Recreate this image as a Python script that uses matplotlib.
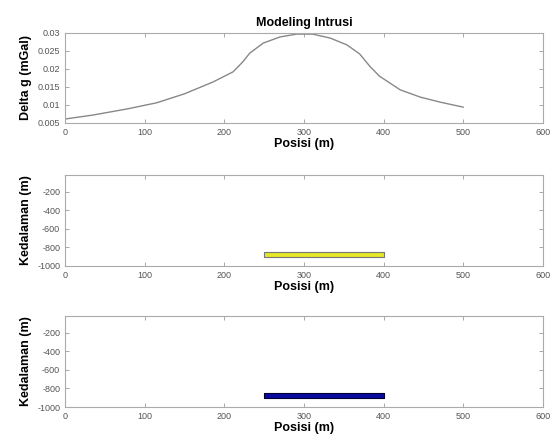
import matplotlib.pyplot as plt

# gravity anomaly profile
posisi = [0, 35, 78, 115, 150, 186, 211, 223, 232, 249, 270, 291, 311, 333,
          354, 370, 383, 395, 421, 446, 471, 500]
delta_g = [0.0061, 0.0072, 0.0089, 0.0106, 0.0131, 0.0164, 0.0192, 0.0219,
           0.0244, 0.0272, 0.0289, 0.0297, 0.0297, 0.0286, 0.0267, 0.0242,
           0.0207, 0.0180, 0.0142, 0.0122, 0.0108, 0.0094]

# intrusion body (x extent, depth top/bottom)
body_x = [250, 400]
body_top = -845
body_bot = -905

xticks = [0, 100, 200, 300, 400, 500, 600]
depth_ticks = [-1000, -800, -600, -400, -200]
dg_ticks = [0.005, 0.01, 0.015, 0.02, 0.025, 0.03]

plt.rcParams['font.family'] = ['Liberation Sans', 'DejaVu Sans']
plt.rcParams['axes.unicode_minus'] = False

fig = plt.figure(figsize=(5.53, 4.40), dpi=100)
left, width = 0.1175, 0.864
ax1 = fig.add_axes([left, 0.7205, width, 0.2045])
ax2 = fig.add_axes([left, 0.3955, width, 0.207])
ax3 = fig.add_axes([left, 0.075, width, 0.207])


def style(ax):
    ax.set_xlim(0, 600)
    ax.set_xticks(xticks)
    ax.tick_params(direction='in', top=True, right=True, labelsize=6.5,
                   labelcolor='#555555', color='#999999', length=3, width=0.6)
    for s in ax.spines.values():
        s.set_color('#aaaaaa')
        s.set_linewidth(0.8)
    ax.set_xlabel("Posisi (m)", fontsize=9, fontweight='bold', labelpad=1)


ax1.plot(posisi, delta_g, color='#888888', linewidth=1)
ax1.set_ylim(0.005, 0.03)
ax1.set_yticks(dg_ticks)
ax1.set_yticklabels(['0.005', '0.01', '0.015', '0.02', '0.025', '0.03'])
ax1.set_ylabel("Delta g (mGal)", fontsize=9, fontweight='bold')
ax1.set_title("Modeling Intrusi", fontsize=9, fontweight='bold', pad=5)
style(ax1)

ax2.fill_between(body_x, body_bot, body_top, facecolor='#e6e62a',
                 edgecolor='#777777', linewidth=0.8)
ax3.fill_between(body_x, body_bot, body_top, facecolor='#0a0aa0',
                 edgecolor='#000033', linewidth=0.8)
for ax in (ax2, ax3):
    ax.set_ylim(-1000, -20)
    ax.set_yticks(depth_ticks)
    ax.set_ylabel("Kedalaman (m)", fontsize=9, fontweight='bold')
    style(ax)

fig.savefig("out.png", dpi=100)
